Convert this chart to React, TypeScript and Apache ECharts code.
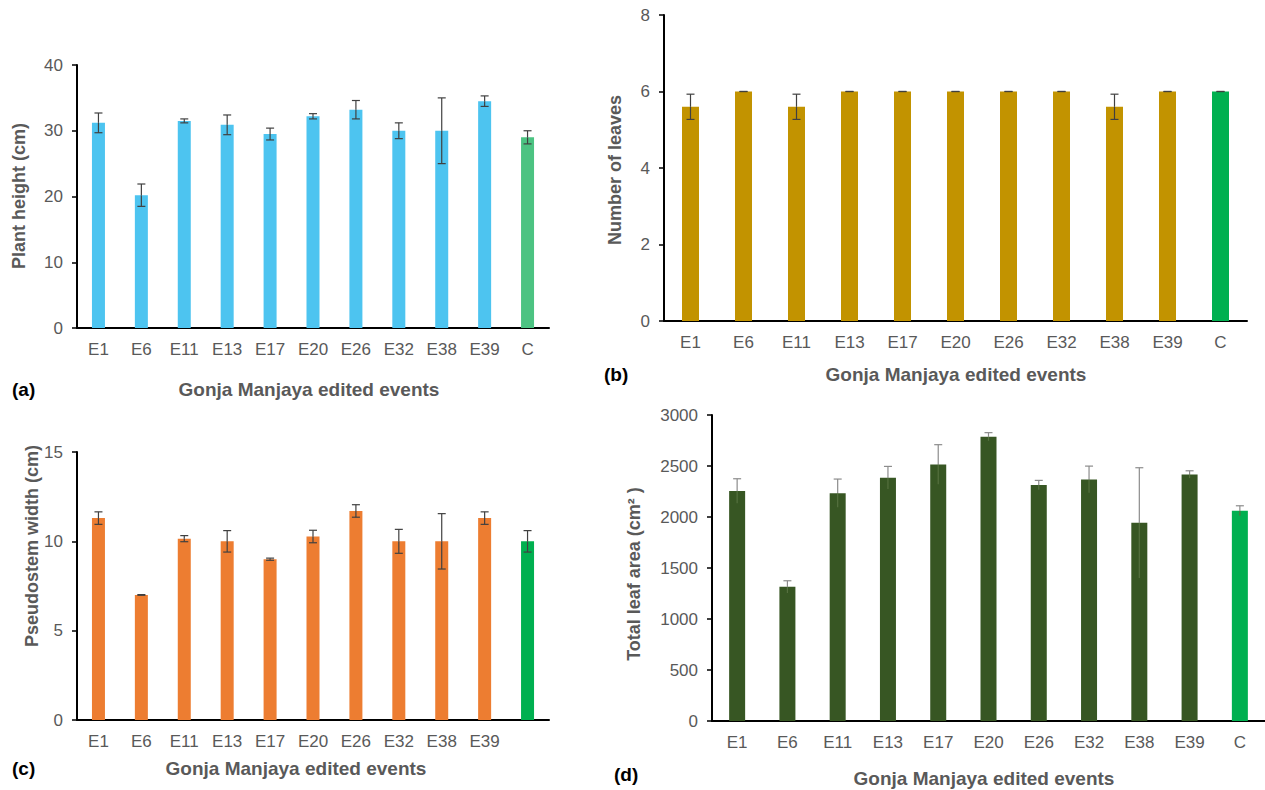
import React, { useEffect, useRef } from "react";
import * as echarts from "echarts";

// Edited events plus the control line (C)
const categories = ["E1", "E6", "E11", "E13", "E17", "E20", "E26", "E32", "E38", "E39", "C"];

// (a) Plant height (cm), mean and error
const heightMean = [31.2, 20.2, 31.5, 30.9, 29.5, 32.2, 33.2, 30.0, 30.0, 34.5, 29.0];
const heightErr = [1.5, 1.7, 0.3, 1.5, 0.9, 0.4, 1.4, 1.2, 5.0, 0.8, 1.0];

// (b) Number of leaves
const leavesMean = [5.6, 6, 5.6, 6, 6, 6, 6, 6, 5.6, 6, 6];
const leavesErr = [0.33, 0, 0.33, 0, 0, 0, 0, 0, 0.33, 0, 0];

// (c) Pseudostem width (cm)
const widthMean = [11.3, 7.0, 10.15, 10.0, 9.0, 10.27, 11.7, 10.0, 10.0, 11.3, 10.0];
const widthErr = [0.35, 0.02, 0.17, 0.6, 0.06, 0.35, 0.35, 0.67, 1.55, 0.35, 0.6];

// (d) Total leaf area (cm²)
const areaMean = [2255, 1315, 2234, 2385, 2515, 2787, 2313, 2368, 1943, 2417, 2061];
const areaErr = [120, 60, 138, 111, 194, 40, 46, 131, 540, 36, 49];

// y-axis tick ranges
const heightTicks = { min: 0, max: 40, interval: 10 };
const leavesTicks = { min: 0, max: 8, interval: 2 };
const widthTicks = { min: 0, max: 15, interval: 5 };
const areaTicks = { min: 0, max: 3000, interval: 500 };

const FONT = "'Liberation Sans', Arial, sans-serif";
const LABEL_GREY = "#595959";
const CONTROL_GREEN = "#00B050";

// Vertical error bar with a cap on top (and optionally at the bottom).
// The part below the mean can be given its own colour.
function errorRender(capW: number, color: string, lowerCap: boolean, innerColor?: string) {
  return (params: any, api: any) => {
    const i = api.value(0);
    const lo = api.coord([i, api.value(1)]);
    const hi = api.coord([i, api.value(2)]);
    const mid = api.coord([i, api.value(3)]);
    const style = { stroke: color, lineWidth: 1.2 };
    const innerStyle = { stroke: innerColor || color, lineWidth: 1.2 };
    const children: any[] = [
      { type: "line", shape: { x1: hi[0], y1: hi[1], x2: mid[0], y2: mid[1] }, style },
      { type: "line", shape: { x1: mid[0], y1: mid[1], x2: lo[0], y2: lo[1] }, style: innerStyle },
      { type: "line", shape: { x1: hi[0] - capW / 2, y1: hi[1], x2: hi[0] + capW / 2, y2: hi[1] }, style },
    ];
    if (lowerCap) {
      children.push({
        type: "line",
        shape: { x1: lo[0] - capW / 2, y1: lo[1], x2: lo[0] + capW / 2, y2: lo[1] },
        style: innerStyle,
      });
    }
    return { type: "group", children };
  };
}

function panelAxes(gridIndex: number, ticks: any, hideControlLabel = false) {
  const xAxis = {
    type: "category",
    gridIndex,
    data: categories,
    axisLine: { show: true, lineStyle: { color: "#000", width: 2 } },
    axisTick: { show: false },
    axisLabel: {
      color: LABEL_GREY,
      fontFamily: FONT,
      fontSize: 17,
      margin: 13,
      interval: 0,
      formatter: (v: string) => (hideControlLabel && v === "C" ? "" : v),
    },
    splitLine: { show: false },
  };
  const yAxis = {
    type: "value",
    gridIndex,
    min: ticks.min,
    max: ticks.max,
    interval: ticks.interval,
    axisLine: { show: true, lineStyle: { color: "#000", width: 2 } },
    axisTick: { show: true, length: 5, lineStyle: { color: "#000", width: 1.5 } },
    axisLabel: {
      color: LABEL_GREY,
      fontFamily: FONT,
      fontSize: 17,
      margin: 14,
      formatter: (v: number) => String(v),
    },
    splitLine: { show: false },
  };
  return { xAxis, yAxis };
}

function panelSeries(
  idx: number,
  mean: number[],
  err: number[],
  base: string,
  control: string,
  barWidth: number,
  errColor: string,
  capW: number,
  lowerCap: boolean,
  innerColor?: string
) {
  return [
    {
      type: "bar",
      xAxisIndex: idx,
      yAxisIndex: idx,
      barWidth,
      data: mean.map((v, i) => ({
        value: v,
        itemStyle: { color: categories[i] === "C" ? control : base },
      })),
      z: 2,
    },
    {
      type: "custom",
      xAxisIndex: idx,
      yAxisIndex: idx,
      renderItem: errorRender(capW, errColor, lowerCap, innerColor),
      encode: { x: 0, y: [1, 2] },
      data: mean.map((m, i) => [i, m - err[i], m + err[i], m]),
      z: 5,
    },
  ];
}

function vTitle(text: string, x: number, y: number) {
  return {
    type: "text",
    x,
    y,
    rotation: Math.PI / 2,
    style: {
      text,
      fill: LABEL_GREY,
      font: `bold 18px ${FONT}`,
      align: "center",
      verticalAlign: "middle",
    },
  };
}

function hTitle(text: string, x: number, y: number) {
  return {
    type: "text",
    x,
    y,
    style: {
      text,
      fill: LABEL_GREY,
      font: `bold 19px ${FONT}`,
      align: "center",
      verticalAlign: "middle",
    },
  };
}

function panelTag(text: string, x: number, y: number) {
  return {
    type: "text",
    x,
    y,
    style: {
      text,
      fill: "#000",
      font: `bold 19px ${FONT}`,
      align: "left",
      verticalAlign: "middle",
    },
  };
}

export default function App() {
  const ref = useRef<HTMLDivElement>(null);

  useEffect(() => {
    if (!ref.current) return;
    const chart = echarts.init(ref.current, undefined, { renderer: "svg" });

    const a = panelAxes(0, heightTicks);
    const b = panelAxes(1, leavesTicks);
    const c = panelAxes(2, widthTicks, true);
    const d = panelAxes(3, areaTicks);

    chart.setOption({
      animation: false,
      backgroundColor: "#ffffff",
      grid: [
        { left: 77, top: 65, width: 472, height: 263 },
        { left: 664, top: 15, width: 583, height: 306 },
        { left: 77, top: 452, width: 472, height: 268 },
        { left: 712, top: 415, width: 553, height: 306 },
      ],
      xAxis: [a.xAxis, b.xAxis, c.xAxis, d.xAxis],
      yAxis: [a.yAxis, b.yAxis, c.yAxis, d.yAxis],
      series: [
        ...panelSeries(0, heightMean, heightErr, "#4DC4F0", "#4CC382", 13, "#404040", 8, true),
        ...panelSeries(1, leavesMean, leavesErr, "#C29300", CONTROL_GREEN, 17, "#404040", 8, true),
        ...panelSeries(2, widthMean, widthErr, "#ED7D31", CONTROL_GREEN, 13, "#404040", 8, true),
        ...panelSeries(3, areaMean, areaErr, "#375623", CONTROL_GREEN, 16, "#8C8C8C", 8, false, "#55703F"),
      ],
      graphic: [
        vTitle("Plant height (cm)", 19, 196),
        hTitle("Gonja Manjaya edited events", 309, 389),
        panelTag("(a)", 12, 389),

        vTitle("Number of leaves", 615, 170),
        hTitle("Gonja Manjaya edited events", 956, 374),
        panelTag("(b)", 604, 374),

        vTitle("Pseudostem width (cm)", 32, 546),
        hTitle("Gonja Manjaya edited events", 296, 768),
        panelTag("(c)", 12, 768),

        vTitle("Total leaf area (cm\u00B2 )", 634, 574),
        hTitle("Gonja Manjaya edited events", 984, 778),
        panelTag("(d)", 614, 774),
      ],
    });

    return () => chart.dispose();
  }, []);

  return (
    <div
      ref={ref}
      style={{ position: "absolute", left: 0, top: 0, width: 1265, height: 790, background: "#fff" }}
    />
  );
}
